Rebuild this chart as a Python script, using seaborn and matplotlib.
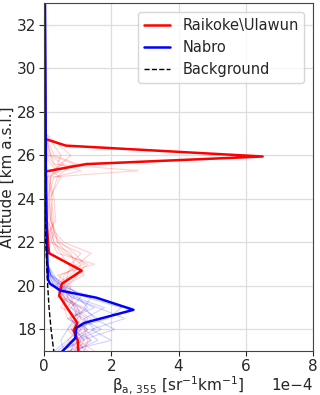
import numpy as np
import pandas as pd
import seaborn as sns
import matplotlib.pyplot as plt

# values in units of 1e-4 sr^-1 km^-1
rai_alt = [33, 30, 27, 26.75, 26.45, 25.95, 25.6, 25.26, 24, 23, 22, 21.5, 21.48, 20.7, 20.1, 19.55,
           18.85, 18.3, 17.94, 17.5, 17.0]
rai_val = [0.02, 0.03, 0.04, 0.05, 0.65, 6.5, 1.25, 0.05, 0.06, 0.08, 0.12, 0.15, 0.18, 1.12, 0.53, 0.45,
           0.75, 0.99, 0.88, 1.0, 1.02]

nab_alt = [33, 30, 27, 24, 22, 20.3, 20.1, 19.78, 19.46, 18.9, 18.3, 18.07, 17.6, 17.0]
nab_val = [0.03, 0.04, 0.05, 0.06, 0.08, 0.12, 0.18, 0.5, 1.55, 2.66, 1.2, 0.96, 0.93, 0.55]

bg_alt = [33, 28, 24, 22, 20, 19, 18, 17.5, 17.0]
bg_val = [0.005, 0.01, 0.03, 0.05, 0.11, 0.15, 0.21, 0.25, 0.29]

# single red profiles
red_alt = [17, 17.5, 18, 18.5, 19, 19.5, 20, 20.5, 21, 21.5, 22, 22.5, 23, 24, 25, 25.3, 25.6, 26, 27, 33]
red_thin = [
    [1.0, 1.2, 0.9, 1.1, 0.8, 0.6, 0.5, 0.9, 1.3, 0.6, 0.3, 0.2, 0.15, 0.1, 0.1, 0.4, 0.2, 0.05, 0.03, 0.01],
    [0.8, 1.0, 1.3, 0.9, 1.0, 0.7, 0.6, 0.7, 0.8, 1.1, 0.4, 0.3, 0.2, 0.15, 0.2, 2.8, 0.3, 0.1, 0.05, 0.01],
    [1.3, 0.9, 1.1, 1.4, 0.9, 0.8, 0.4, 0.5, 1.2, 0.9, 0.5, 0.2, 0.3, 0.2, 0.4, 0.6, 0.9, 0.2, 0.04, 0.01],
    [0.9, 1.1, 0.8, 1.0, 1.2, 0.5, 0.7, 1.0, 0.7, 0.5, 0.3, 0.25, 0.1, 0.1, 0.2, 0.3, 0.5, 0.8, 0.05, 0.01],
    [1.1, 0.7, 1.0, 0.8, 0.7, 0.9, 0.5, 0.6, 1.0, 1.4, 0.6, 0.3, 0.2, 0.25, 0.1, 0.2, 1.0, 0.3, 0.03, 0.01],
    [1.2, 1.3, 1.2, 0.7, 0.6, 0.6, 0.3, 0.8, 1.1, 0.7, 0.4, 0.35, 0.2, 0.1, 0.3, 1.1, 0.4, 0.5, 0.05, 0.01],
    [1.5, 1.0, 0.7, 0.9, 1.1, 0.4, 0.6, 1.2, 0.9, 0.8, 0.2, 0.3, 0.25, 0.15, 0.5, 0.2, 0.6, 0.15, 0.04, 0.01],
    [0.7, 1.4, 1.0, 1.2, 0.5, 0.7, 0.8, 0.4, 1.5, 0.4, 0.25, 0.15, 0.35, 0.3, 0.15, 0.5, 0.3, 0.2, 0.05, 0.01],
]

# single blue profiles
blue_alt = [17, 17.5, 18, 18.5, 19, 19.5, 20, 20.5, 21, 22, 25, 33]
blue_thin = [
    [0.5, 1.2, 0.9, 1.6, 1.1, 0.6, 0.3, 0.15, 0.1, 0.08, 0.05, 0.01],
    [0.8, 0.9, 1.5, 1.2, 1.8, 0.9, 0.4, 0.2, 0.1, 0.08, 0.04, 0.01],
    [0.3, 0.7, 1.1, 0.8, 1.3, 1.0, 0.5, 0.2, 0.12, 0.1, 0.05, 0.01],
    [1.0, 1.4, 0.8, 1.9, 2.3, 1.2, 0.6, 0.25, 0.1, 0.08, 0.05, 0.01],
    [0.6, 0.5, 0.7, 1.0, 0.9, 0.7, 0.3, 0.15, 0.1, 0.08, 0.04, 0.01],
    [0.9, 1.6, 1.2, 1.3, 0.8, 1.1, 0.7, 0.2, 0.1, 0.08, 0.05, 0.01],
    [0.4, 0.8, 1.3, 0.7, 1.5, 0.8, 0.5, 0.2, 0.1, 0.08, 0.04, 0.01],
    [1.2, 1.0, 1.7, 1.1, 1.0, 0.5, 0.35, 0.2, 0.1, 0.08, 0.05, 0.01],
    [0.7, 2.0, 1.4, 2.4, 1.6, 0.8, 0.45, 0.2, 0.1, 0.08, 0.05, 0.01],
    [0.5, 1.1, 2.1, 1.5, 1.2, 1.4, 0.5, 0.3, 0.1, 0.08, 0.04, 0.01],
]

sns.set_style('ticks')
plt.rcParams['font.size'] = 11

fig = plt.figure(figsize=(3.2, 3.95), dpi=100)
ax = fig.add_axes([0.1375, 0.111, 0.841, 0.881])

def prof(x, y, **kw):
    sns.lineplot(x=np.array(x) * 1e-4, y=y, sort=False, estimator=None, orient='y', ax=ax, **kw)

for p in red_thin:
    prof(p, red_alt, color='red', alpha=0.18, lw=0.8)
for p in blue_thin:
    prof(p, blue_alt, color='blue', alpha=0.18, lw=0.8)

prof(rai_val, rai_alt, color='red', lw=1.8, label='Raikoke\\Ulawun')
prof(nab_val, nab_alt, color='blue', lw=1.8, label='Nabro')
prof(bg_val, bg_alt, color='black', lw=1.0, ls='--', label='Background')

ax.set_xlim(0, 8e-4)
ax.set_ylim(17, 33)
ax.set_xticks([0, 2e-4, 4e-4, 6e-4, 8e-4])
ax.set_yticks(range(18, 33, 2))
ax.grid(True, color='#dddddd', lw=0.9)
ax.ticklabel_format(axis='x', style='sci', scilimits=(0, 0))
ax.set_xlabel('β$_{\\mathrm{a,\\,355}}$ [sr$^{-1}$km$^{-1}$]', labelpad=0)
ax.set_ylabel('Altitude [km a.s.l.]', labelpad=0)
ax.tick_params(pad=2)
ax.yaxis.set_label_coords(-0.11, 0.5)
for s in ax.spines.values():
    s.set_color('#444444')
ax.legend(loc='upper right', fontsize=10.5, handlelength=1.8, borderaxespad=0.6)

fig.savefig('out.png', dpi=100)
